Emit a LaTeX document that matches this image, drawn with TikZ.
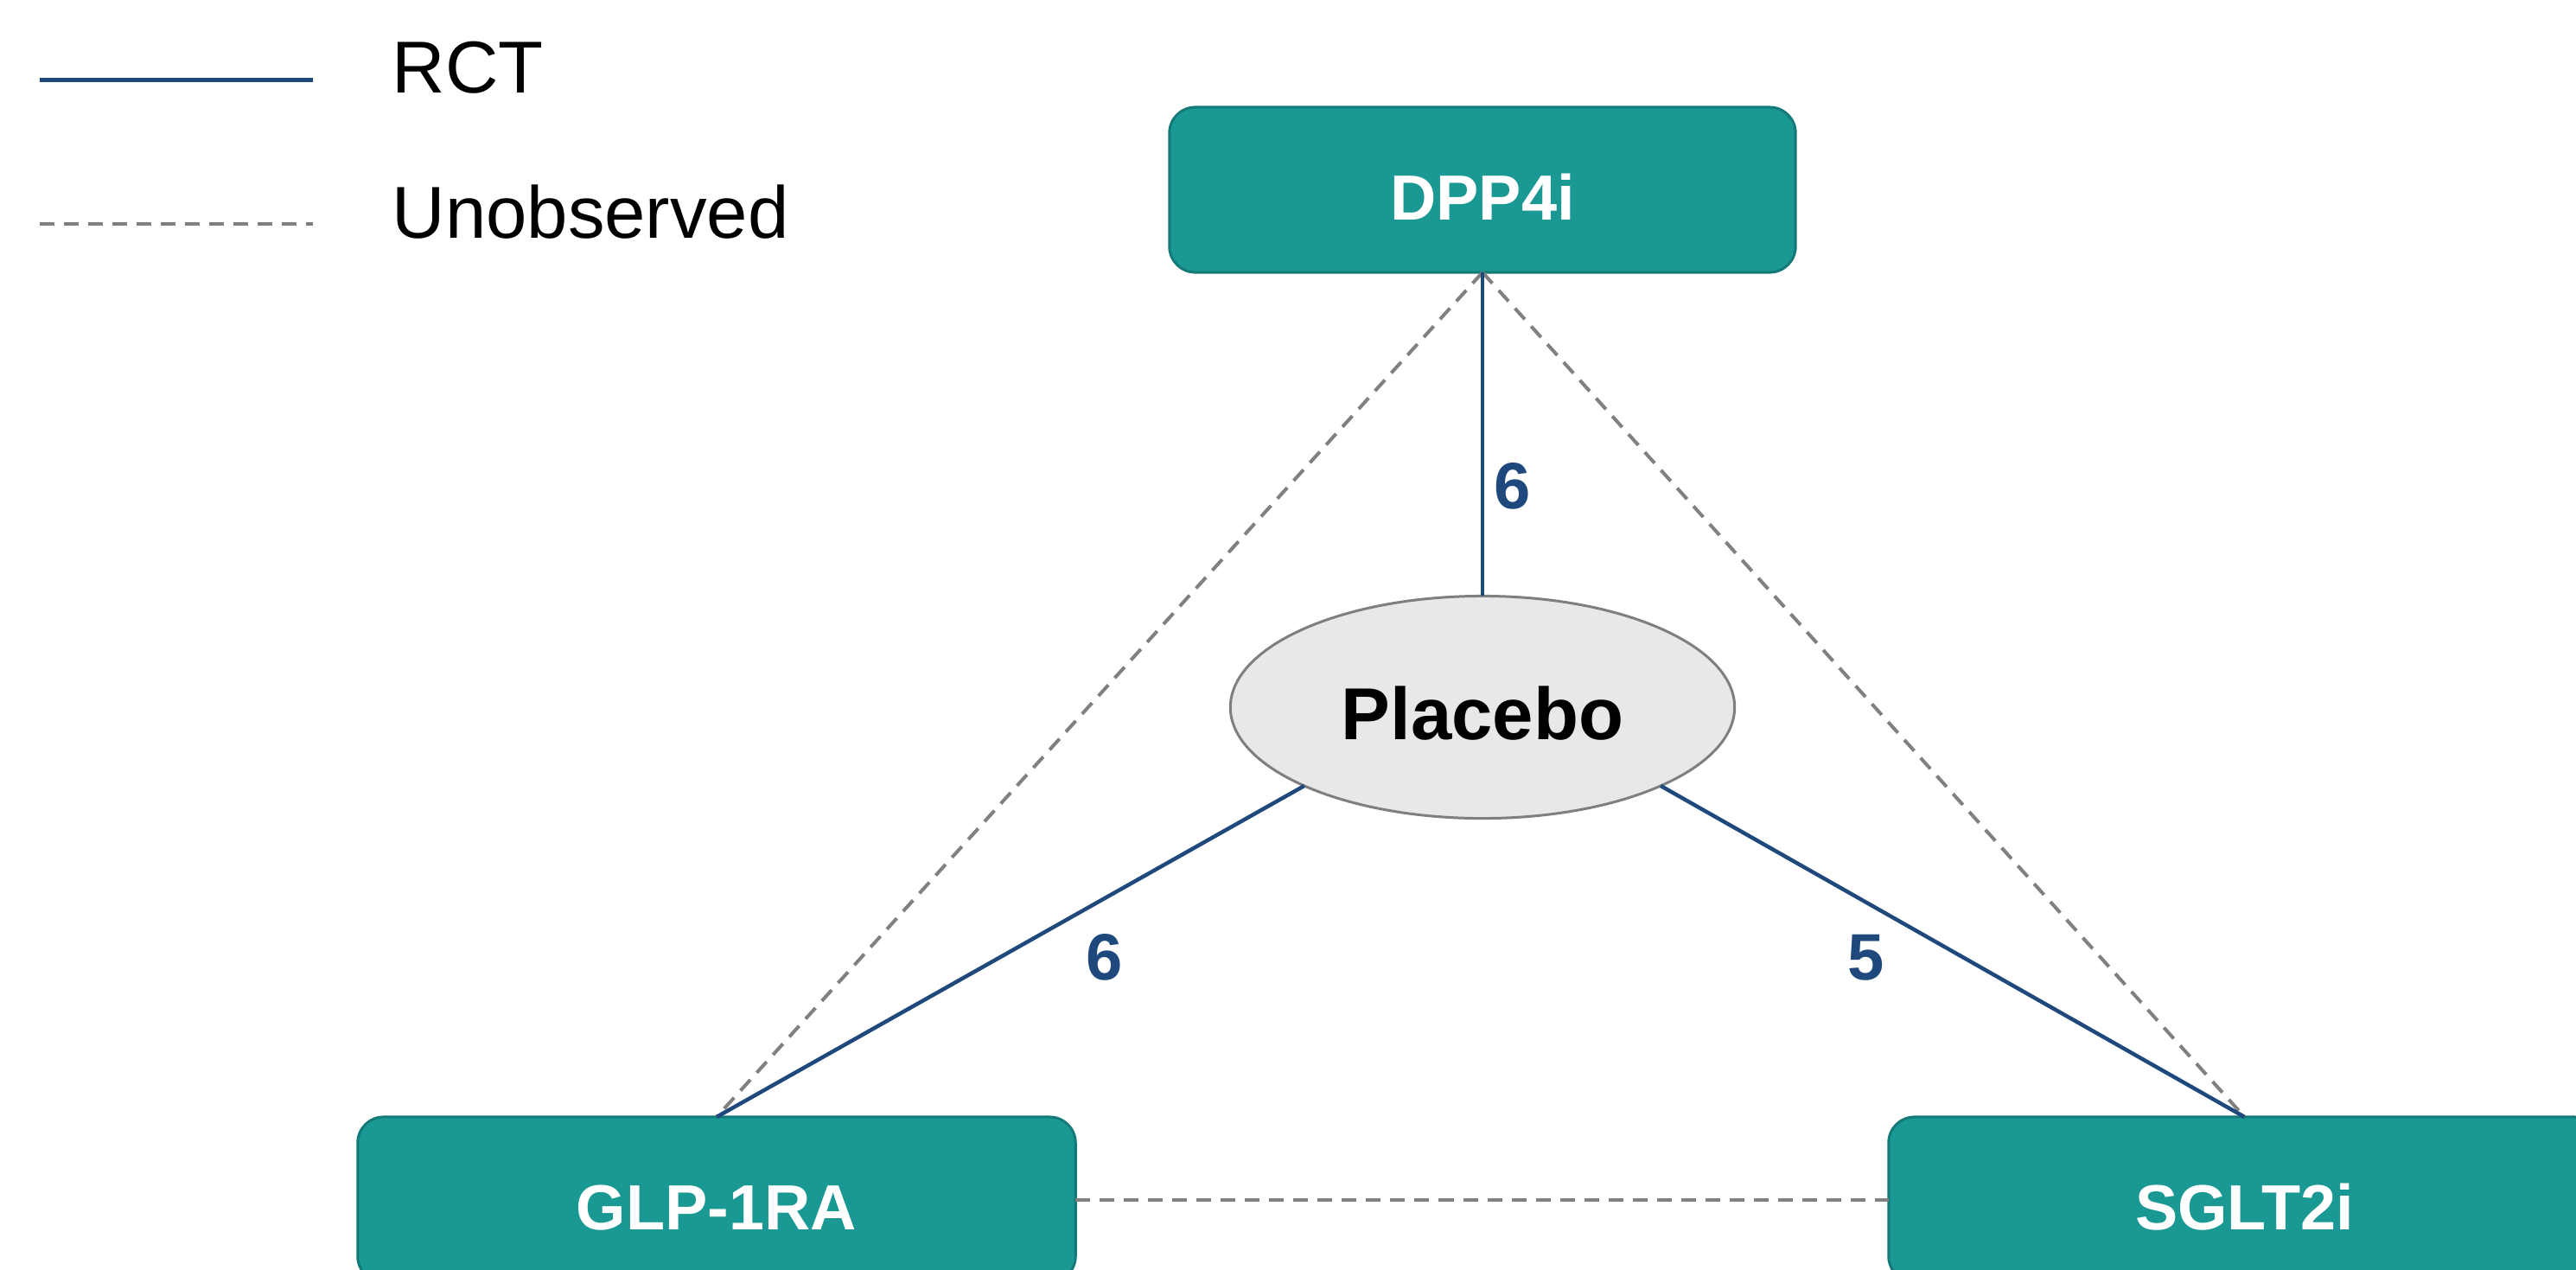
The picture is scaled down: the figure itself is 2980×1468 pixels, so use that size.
\documentclass[tikz,border=0pt]{standalone}
\usepackage{fontspec}
\setmainfont{Liberation Sans}
\usetikzlibrary{shapes.geometric,calc}
\definecolor{tealfill}{RGB}{26,152,148}
\definecolor{tealedge}{RGB}{20,122,120}
\definecolor{navy}{RGB}{31,73,125}
\definecolor{dashgray}{RGB}{128,128,128}
\definecolor{plfill}{RGB}{232,232,232}
\definecolor{pledge}{RGB}{127,127,127}
\begin{document}
\begin{tikzpicture}[x=0.01cm,y=-0.01cm,
 drug/.style={draw=tealedge,fill=tealfill,line width=0.03cm,rounded corners=0.3cm,minimum height=1.91cm,inner sep=0pt,outer sep=0pt,text=white,font=\fontsize{21}{25}\selectfont\bfseries,text height=0.69cm,text depth=0cm},
 pbo/.style={ellipse,draw=pledge,fill=plfill,line width=0.03cm,minimum width=5.83cm,minimum height=2.57cm,inner sep=0pt,outer sep=0pt,font=\fontsize{24.2}{29}\selectfont\bfseries,text height=0.74cm,text depth=0cm},
 rct/.style={draw=navy,line width=0.045cm},
 unobs/.style={draw=dashgray,line width=0.04cm,dash pattern=on 0.17cm off 0.11cm},
 legtext/.style={anchor=base west,inner sep=0pt,font=\fontsize{24.2}{29}\selectfont},
 num/.style={anchor=base,inner sep=0pt,text=navy,font=\fontsize{21.6}{26}\selectfont\bfseries}]
\clip (0,0) rectangle (2980,1468);
\node[drug,minimum width=7.24cm] (dpp) at (1715,219.5) {DPP4i};
\node[pbo] (pl) at (1715,818) {Placebo};
\node[drug,minimum width=8.30cm] (glp) at (829,1387.5) {GLP-1RA};
\node[drug,minimum width=8.23cm] (sglt) at (2596.5,1387.5) {SGLT2i};
\coordinate (plsw) at ($(pl.center)+(-206.1,90.9)$);
\coordinate (plse) at ($(pl.center)+(206.1,90.9)$);
\draw[unobs] (dpp.south) -- (glp.north);
\draw[unobs] (dpp.south) -- (sglt.north);
\draw[unobs] (glp.east) -- (sglt.west);
\draw[rct] (dpp.south) -- (pl.north);
\draw[rct] (glp.north) -- (plsw);
\draw[rct] (sglt.north) -- (plse);
\node[num] (n1) at (1750,588) {6};
\node[num] (n2) at (1278,1133) {6};
\node[num] (n3) at (2159,1133) {5};
\coordinate (r1) at (46,92);
\coordinate (r2) at (362,92);
\draw[rct,line width=0.05cm] (r1) -- (r2);
\coordinate (u1) at (46,259);
\coordinate (u2) at (362,259);
\draw[unobs] (u1) -- (u2);
\node[legtext] (lrct) at (453,107) {RCT};
\node[legtext] (lun) at (453,275) {Unobserved};
\end{tikzpicture}
\end{document}
